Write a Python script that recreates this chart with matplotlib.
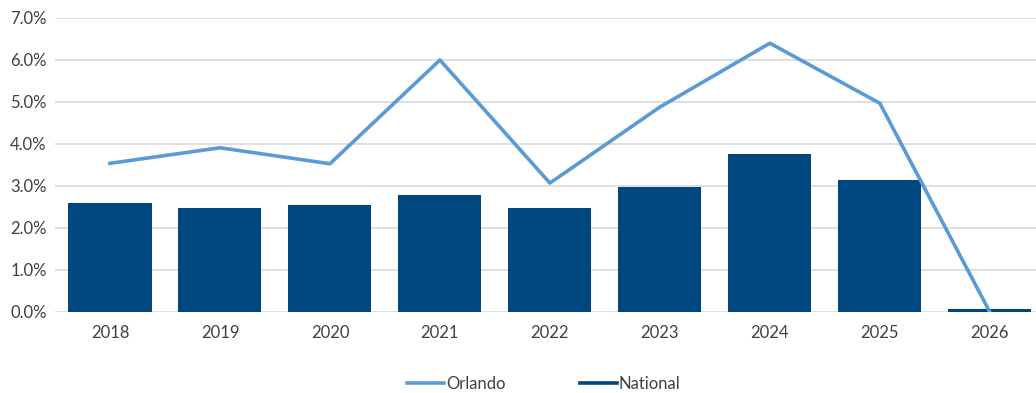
import numpy as np
from matplotlib import pyplot as plt
from matplotlib.lines import Line2D
from matplotlib.ticker import PercentFormatter

years = ["2018", "2019", "2020", "2021", "2022", "2023", "2024", "2025", "2026"]
orlando = [3.54, 3.91, 3.53, 6.0, 3.07, 4.88, 6.40, 4.97, 0.0]
national = [2.60, 2.48, 2.55, 2.79, 2.48, 2.98, 3.76, 3.14, 0.07]

line_color = "#5B9BD5"
bar_color = "#00467F"

plt.rcParams["font.family"] = ["Lato", "DejaVu Sans"]

fig = plt.figure(figsize=(10.36, 3.93), dpi=100)
ax = fig.add_axes([55 / 1036, 1 - 312 / 393, 1 - 55 / 1036, (312 - 18) / 393])

x = np.arange(len(years))
ax.bar(x, national, width=0.755, color=bar_color, zorder=2)
ax.plot(x, orlando, color=line_color, linewidth=2.6, zorder=3)

ax.set_ylim(0, 7)
ax.set_xlim(-0.5, 8.42)
ax.set_yticks(np.arange(0, 7.5, 1))
ax.yaxis.set_major_formatter(PercentFormatter(decimals=1))
ax.set_xticks(x)
ax.set_xticklabels(years)
ax.grid(axis="y", color="#D9D9D9", linewidth=1.2, zorder=0)
ax.set_axisbelow(True)
for s in ax.spines.values():
    s.set_visible(False)
ax.tick_params(length=0, labelsize=12, colors="#404040")
ax.tick_params(axis="x", pad=9)
ax.tick_params(axis="y", pad=6)

handles = [Line2D([], [], color=line_color, linewidth=2.6),
           Line2D([], [], color=bar_color, linewidth=2.6)]
fig.legend(handles, ["Orlando", "National"], loc="center",
           bbox_to_anchor=(0.525, 1 - 384 / 393), ncol=2, frameon=False,
           fontsize=12, handlelength=2.2, handletextpad=0.1,
           columnspacing=4.5, labelcolor="#404040")

fig.savefig("out.png", dpi=100)
